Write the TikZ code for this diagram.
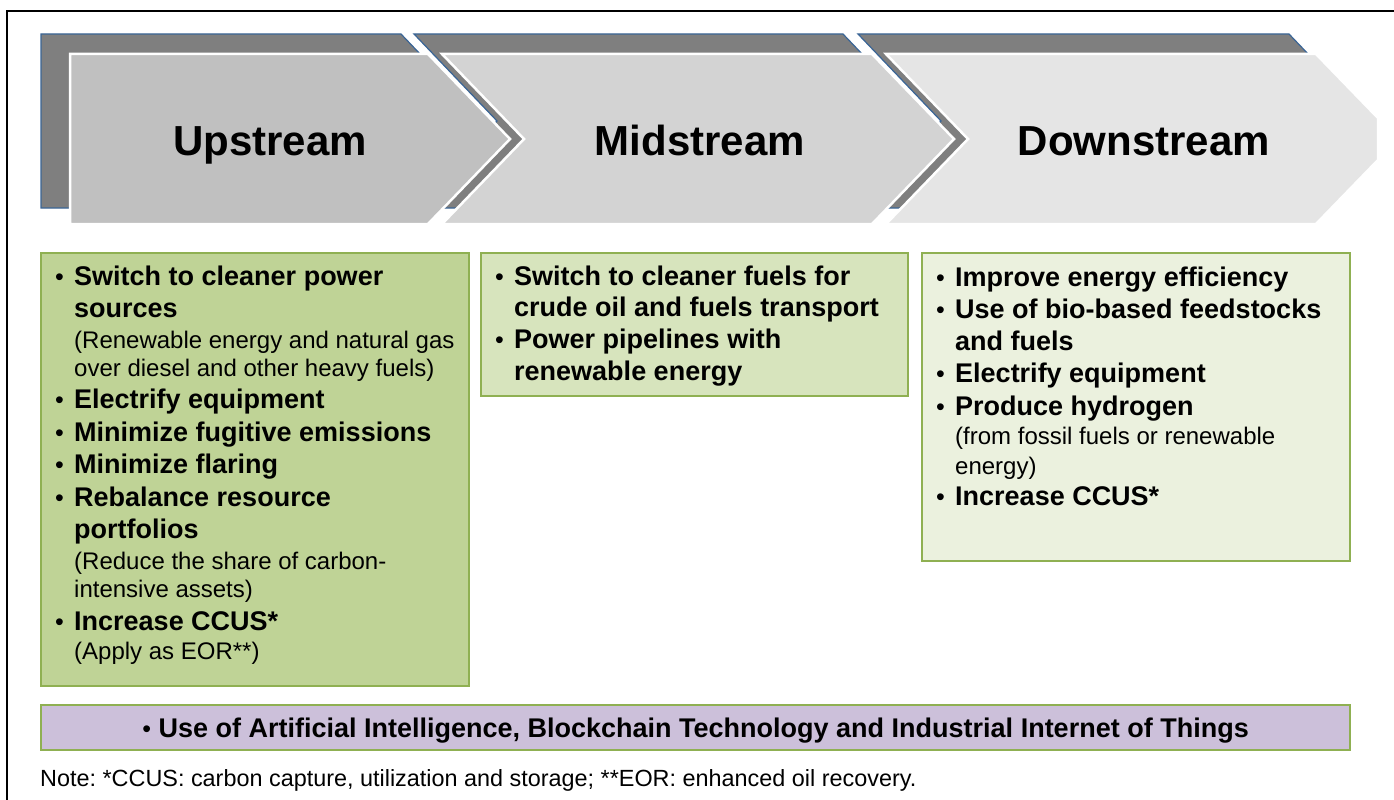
\documentclass[tikz,border=0pt]{standalone}
\usepackage{fontspec}
\setmainfont{Liberation Sans}
\frenchspacing

\definecolor{backgray}{HTML}{7F7F7F}
\definecolor{backblue}{HTML}{3A6596}
\definecolor{upfill}{HTML}{C0C0C0}
\definecolor{midfill}{HTML}{D3D3D3}
\definecolor{downfill}{HTML}{E5E5E5}
\definecolor{greenline}{HTML}{8FB052}
\definecolor{upgreen}{HTML}{BFD396}
\definecolor{midgreen}{HTML}{D7E4BD}
\definecolor{downgreen}{HTML}{EBF1DE}
\definecolor{techfill}{HTML}{CCC0DA}

\newcommand{\smallbullet}{{\fontsize{25}{25}\selectfont\mdseries\textbullet}}
\newcommand{\bul}{\makebox[19pt][l]{\smallbullet}}
\newcommand{\ind}{\hspace*{19pt}}
\newcommand{\remark}[1]{{\fontsize{24}{28}\selectfont\mdseries #1}}

\begin{document}
\begin{tikzpicture}[x=1pt, y=-1pt,
    back/.style={fill=backgray, draw=backblue, line width=1.2pt},
    front/.style={draw=white, line width=2.5pt},
    title/.style={anchor=base, inner sep=0pt, font=\bfseries\fontsize{42}{50}\selectfont},
    listbox/.style={draw=greenline, line width=1.5pt},
    items/.style={anchor=north west, inner sep=0pt, align=left,
        font=\bfseries\fontsize{27}{32.5}\selectfont}
]
\useasboundingbox (0,0) rectangle (1394,800);
% outer frame
\draw[line width=1.2pt] (7,800) -- (7,11) -- (1394,11);

% chevrons, back layer
\draw[back] (41,34) -- (401,34) -- (484,121) -- (401,208) -- (41,208) -- cycle;
\draw[back] (414,34) -- (843,34) -- (926,121) -- (843,208) -- (414,208) -- (497,121) -- cycle;
\draw[back] (858,34) -- (1289,34) -- (1372,121) -- (1289,208) -- (858,208) -- (941,121) -- cycle;

% chevrons, front layer
\draw[front, fill=upfill] (70,54) -- (428,54) -- (510,139) -- (428,224) -- (70,224) -- cycle;
\draw[front, fill=midfill] (442,54) -- (872,54) -- (954,139) -- (872,224) -- (442,224) -- (524,139) -- cycle;
\draw[front, fill=downfill] (886,54) -- (1316,54) -- (1378,118) -- (1378,160) -- (1316,224) -- (886,224) -- (968,139) -- cycle;

\node[title] (up) at (270,155) {Upstream};
\node[title] (mid) at (700,155) {Midstream};
\node[title] (down) at (1144,155) {Downstream};

% measure boxes
\draw[listbox, fill=upgreen] (41,253) rectangle (469,686);
\draw[listbox, fill=midgreen] (481,253) rectangle (908,396);
\draw[listbox, fill=downgreen] (922,253) rectangle (1350,561);

\node[items] (uplist) at (55,265.5) {%
    \bul Switch to cleaner power\\
    \ind sources\\[-1.5pt]
    \ind\remark{(Renewable energy and natural gas}\\[-4.5pt]
    \ind\remark{over diesel and other heavy fuels)}\\[-0.5pt]
    \bul Electrify equipment\\
    \bul Minimize fugitive emissions\\
    \bul Minimize flaring\\
    \bul Rebalance resource\\
    \ind portfolios\\[-1.5pt]
    \ind\remark{(Reduce the share of carbon-}\\[-4.5pt]
    \ind\remark{intensive assets)}\\[0.5pt]
    \bul Increase CCUS*\\[-3.5pt]
    \ind\remark{(Apply as EOR**)}};

\node[items] (midlist) at (495,265.5) {%
    \bul Switch to cleaner fuels for\\[-0.8pt]
    \ind crude oil and fuels transport\\[-0.8pt]
    \bul Power pipelines with\\[-0.8pt]
    \ind renewable energy};

\node[items] (downlist) at (936,267) {%
    \bul Improve energy efficiency\\[-1pt]
    \bul Use of bio-based feedstocks\\[-0.5pt]
    \ind and fuels\\
    \bul Electrify equipment\\
    \bul Produce hydrogen\\[-3pt]
    \ind\remark{(from fossil fuels or renewable}\\[-2.5pt]
    \ind\remark{energy)}\\[-1.5pt]
    \bul Increase CCUS*};

% cross-cutting technologies
\draw[listbox, fill=techfill] (41,705) rectangle (1350,750);
\node[anchor=base, inner sep=0pt, font=\bfseries\fontsize{27}{32}\selectfont]
    (tech) at (695.5,737) {\smallbullet\ Use of Artificial Intelligence, Blockchain Technology and Industrial Internet of Things};

\node[anchor=base west, inner sep=0pt, font=\fontsize{23.4}{28}\selectfont]
    (note) at (40,786) {Note: *CCUS: carbon capture, utilization and storage; **EOR: enhanced oil recovery.};
\end{tikzpicture}
\end{document}
